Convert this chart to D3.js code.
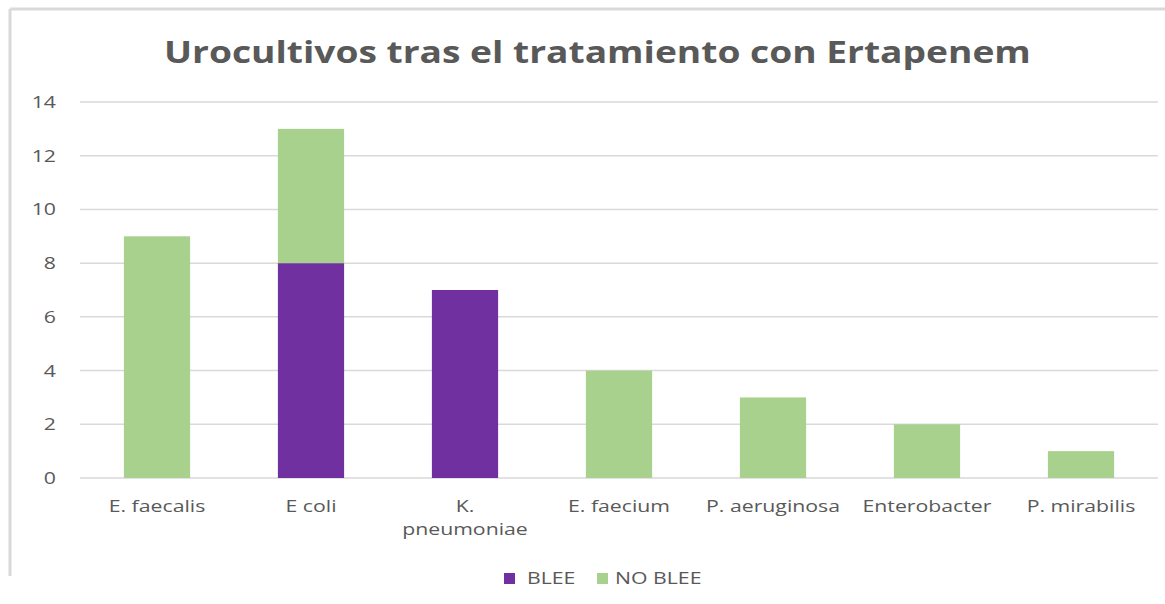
<!DOCTYPE html>
<html>
<head>
<meta charset="utf-8">
<script src="https://cdn.jsdelivr.net/npm/d3@7"></script>
<style>
  body { margin: 0; background: #fff; }
  svg text { font-family: "Open Sans", "DejaVu Sans", sans-serif; fill: #595959; }
</style>
</head>
<body>
<svg id="chart" width="1165" height="604"></svg>
<script>
// data
const categories = ['E. faecalis', 'E coli', 'K. pneumoniae', 'E. faecium', 'P. aeruginosa', 'Enterobacter', 'P. mirabilis']
const blee = [0, 8, 7, 0, 0, 0, 0]
const noBlee = [9, 5, 0, 4, 3, 2, 1]
const yTicks = [0, 2, 4, 6, 8, 10, 12, 14]
const seriesNames = ['BLEE', 'NO BLEE']
const colors = ['#7030A0', '#A9D18E']

const svg = d3.select('#chart')
const margin = { left: 80, right: 7, top: 102, bottom: 126 }
const width = 1165, height = 604
const stretch = 1.25 // the source picture is stretched sideways

// frame of the original picture
svg.append('line').attr('x1', 10).attr('x2', width).attr('y1', 9).attr('y2', 9)
  .attr('stroke', '#d9d9d9').attr('stroke-width', 3)
svg.append('line').attr('x1', 10).attr('x2', 10).attr('y1', 9).attr('y2', 576)
  .attr('stroke', '#d9d9d9').attr('stroke-width', 3)

const title = svg.append('text')
  .attr('x', 0).attr('y', 0)
  .style('font-size', '30px').style('font-weight', 'bold')
  .text('Urocultivos tras el tratamiento con Ertapenem')
const tw = title.node().getComputedTextLength()
title.attr('transform', `translate(164,63) scale(${867 / tw},1)`)

const x = d3.scaleBand().domain(categories)
  .range([margin.left, width - margin.right]).paddingInner(0.57).paddingOuter(0.285)
const y = d3.scaleLinear().domain([0, 14]).range([height - margin.bottom, margin.top])

// gridlines
svg.append('g')
  .selectAll('line').data(yTicks).enter().append('line')
    .attr('x1', margin.left).attr('x2', width - margin.right)
    .attr('y1', d => y(d)).attr('y2', d => y(d))
    .attr('stroke', '#d9d9d9').attr('stroke-width', 1.5)

// y axis labels
const yAxis = svg.append('g').attr('transform', `translate(${margin.left},0)`)
  .call(d3.axisLeft(y).tickValues(yTicks).tickSize(0).tickPadding(24))
yAxis.select('.domain').remove()
yAxis.selectAll('text')
  .style('font-size', '17px').attr('fill', '#595959')
  .attr('x', -24 / stretch)
  .attr('transform', `scale(${stretch},1)`)

// stacked bars
const rows = categories.map((c, i) => ({ cat: c, BLEE: blee[i], 'NO BLEE': noBlee[i] }))
const stacked = d3.stack().keys(seriesNames)(rows)

svg.append('g')
  .selectAll('g').data(stacked).enter().append('g')
    .attr('fill', (d, i) => colors[i])
  .selectAll('rect').data(d => d).enter().append('rect')
    .attr('x', d => x(d.data.cat))
    .attr('width', x.bandwidth())
    .attr('y', d => y(d[1]))
    .attr('height', d => y(d[0]) - y(d[1]))

// x labels, K. pneumoniae wraps over two lines
const xLabels = svg.append('g')
  .selectAll('text').data(categories).enter().append('text')
    .attr('transform', d => `translate(${x(d) + x.bandwidth() / 2},512) scale(${stretch},1)`)
    .attr('text-anchor', 'middle')
    .style('font-size', '17px')
xLabels.each(function(d) {
  const parts = d === 'K. pneumoniae' ? ['K.', 'pneumoniae'] : [d]
  d3.select(this).selectAll('tspan').data(parts).enter().append('tspan')
    .attr('x', 0)
    .attr('dy', (p, i) => i === 0 ? 0 : 23)
    .text(p => p)
})

// legend
const swatchX = [504, 597]
const labelX = [527, 615]
const legend = svg.append('g')
  .selectAll('g').data(seriesNames).enter().append('g')
legend.append('rect')
  .attr('x', (d, i) => swatchX[i]).attr('y', 573)
  .attr('width', 11).attr('height', 11).attr('fill', (d, i) => colors[i])
legend.append('text')
  .attr('transform', (d, i) => `translate(${labelX[i]},584) scale(${stretch},1)`)
  .style('font-size', '17px').text(d => d)
</script>
</body>
</html>
